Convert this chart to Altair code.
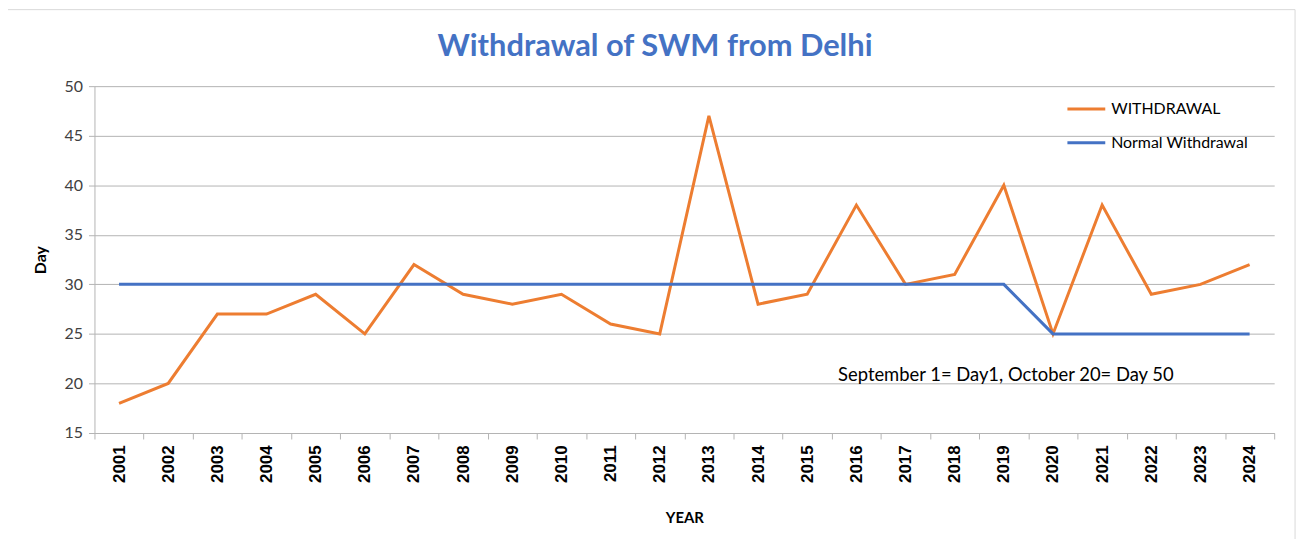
import altair as alt
import pandas as pd

years = [str(y) for y in range(2001, 2025)]
withdrawal = [18, 20, 27, 27, 29, 25, 32, 29, 28, 29, 26, 25, 47, 28, 29, 38, 30, 31, 40, 25, 38, 29, 30, 32]
normal = [30] * 19 + [25] * 5
series_names = ["WITHDRAWAL", "Normal Withdrawal"]
series_colors = ["#ED7D31", "#4472C4"]
y_ticks = [15, 20, 25, 30, 35, 40, 45, 50]
note = "September 1= Day1, October 20= Day 50"
title_text = "Withdrawal of SWM from Delhi"

df = pd.DataFrame({
    "YEAR": years * 2,
    "Day": withdrawal + normal,
    "Series": [series_names[0]] * len(years) + [series_names[1]] * len(years),
})

W, H = 1187, 349
PL, PT = 87, 77
GRID = "#B3B3B3"

x_enc = alt.X("YEAR:N", sort=years,
              scale=alt.Scale(paddingInner=0, paddingOuter=0),
              axis=alt.Axis(title="YEAR", labelAngle=-90, labelAlign="right", labelBaseline="middle",
                            labelFont="Liberation Sans", labelFontWeight="bold", labelFontSize=17,
                            labelColor="#000000", labelPadding=6,
                            titleFont="Lato", titleFontSize=15, titleFontWeight="bold", titleColor="#000000",
                            titlePadding=28,
                            tickBand="extent", tickSize=6, tickColor=GRID, domainColor=GRID,
                            grid=False))

lines = alt.Chart(df).mark_line(strokeWidth=3).encode(
    x=x_enc,
    y=alt.Y("Day:Q", scale=alt.Scale(domain=[15, 50], nice=False),
            axis=alt.Axis(title="Day", values=y_ticks, labelFont="Lato", labelFontSize=16,
                          labelColor="#404040", labelPadding=6,
                          titleFont="Lato", titleFontSize=16, titleFontWeight="bold",
                          titleColor="#000000", titlePadding=16,
                          tickSize=6, tickColor=GRID, domainColor=GRID,
                          grid=True, gridColor=GRID, gridWidth=1)),
    color=alt.Color("Series:N", sort=series_names,
                    scale=alt.Scale(domain=series_names, range=series_colors),
                    legend=alt.Legend(title=None, orient="none", legendX=977, legendY=2,
                                      symbolType="stroke", symbolStrokeWidth=3, symbolSize=1450,
                                      labelFont="Lato", labelFontSize=16, labelColor="#000000",
                                      rowPadding=5, labelOffset=4)),
)

note_df = pd.DataFrame({"text": [note]})
note_text = alt.Chart(note_df).mark_text(font="Lato", fontSize=18.5, color="#000000", align="center",
                                         baseline="middle").encode(
    x=alt.value(917), y=alt.value(291), text="text:N")

title_df = pd.DataFrame({"text": [title_text]})
title_mark = alt.Chart(title_df).mark_text(font="Lato", fontSize=31, fontWeight="bold", color="#4472C4",
                                           align="center", baseline="alphabetic").encode(
    x=alt.value(564), y=alt.value(-30), text="text:N")

border_df = pd.DataFrame({"a": [0]})
border = alt.Chart(border_df).mark_rect(filled=False, stroke="#D9D9D9", strokeWidth=1).encode(
    x=alt.value(-90), x2=alt.value(1208), y=alt.value(-77), y2=alt.value(560))

chart = alt.layer(border, lines, note_text, title_mark).properties(
    width=W, height=H,
    autosize=alt.AutoSizeParams(type="none"),
    padding={"left": PL, "top": PT, "right": 29, "bottom": 105},
).configure_view(stroke=None)

chart.save("out.html", embed_options={"renderer": "svg", "actions": False})
